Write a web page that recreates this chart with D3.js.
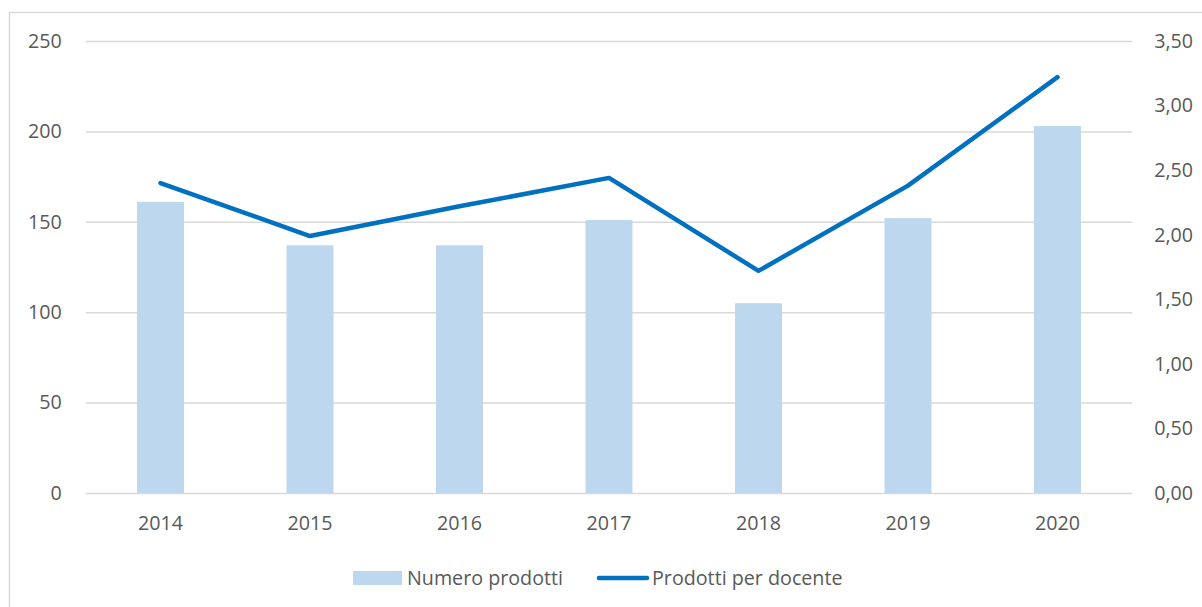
<!DOCTYPE html>
<html>
<head>
<meta charset="utf-8">
<script src="https://cdn.jsdelivr.net/npm/d3@7"></script>
<style>
  html, body { margin: 0; padding: 0; background: #fff; }
  svg { display: block; }
  text { font-family: "Open Sans", sans-serif; fill: #595959; }
</style>
</head>
<body>
<svg id="chart" width="1202" height="607"></svg>
<script>
const years = ["2014", "2015", "2016", "2017", "2018", "2019", "2020"];
const numeroProdotti = [161, 137, 137, 151, 105, 152, 203];
const prodottiPerDocente = [2.40, 1.99, 2.22, 2.44, 1.72, 2.38, 3.22];
const leftTicks = [0, 50, 100, 150, 200, 250];
const rightTicks = [0, 0.5, 1, 1.5, 2, 2.5, 3, 3.5];
const seriesNames = ["Numero prodotti", "Prodotti per docente"];

const W = 1202, H = 607;
const plot = { left: 85.75, right: 1132.25, top: 41, bottom: 493 };
const barColor = "#BDD7EE", lineColor = "#0070C0", gridColor = "#D9D9D9";
const fontSize = 19.7;

const svg = d3.select("#chart");

// outer border
svg.append("rect").attr("x", 9.5).attr("y", 12.5).attr("width", W).attr("height", H)
  .attr("fill", "none").attr("stroke", gridColor).attr("stroke-width", 1.5);

const x = d3.scaleBand().domain(years).range([plot.left, plot.right])
  .paddingInner(0.686).paddingOuter(0.343);
const yL = d3.scaleLinear().domain([0, 250]).range([plot.bottom, plot.top]);
const yR = d3.scaleLinear().domain([0, 3.5]).range([plot.bottom, plot.top]);

// gridlines
const grid = svg.append("g").attr("transform", `translate(${plot.left},0)`)
  .call(d3.axisLeft(yL).tickValues(leftTicks).tickSize(-(plot.right - plot.left)).tickFormat(""));
grid.select(".domain").remove();
grid.selectAll(".tick line").attr("stroke", gridColor).attr("stroke-width", 1.5);

// left axis labels
const ax = svg.append("g").attr("transform", `translate(${plot.left},0)`)
  .call(d3.axisLeft(yL).tickValues(leftTicks).tickSize(0).tickPadding(24));
ax.select(".domain").remove();
ax.selectAll("text").style("font-size", fontSize + "px").attr("fill", "#595959");

// right axis labels
const fmt = v => d3.format(".2f")(v).replace(".", ",");
const axR = svg.append("g").attr("transform", `translate(${plot.right},0)`)
  .call(d3.axisRight(yR).tickValues(rightTicks).tickSize(0).tickPadding(22).tickFormat(fmt));
axR.select(".domain").remove();
axR.selectAll("text").style("font-size", fontSize + "px").attr("fill", "#595959");

// bars
svg.append("g").selectAll("rect").data(years).join("rect")
  .attr("x", d => x(d))
  .attr("width", x.bandwidth())
  .attr("y", (d, i) => yL(numeroProdotti[i]))
  .attr("height", (d, i) => yL(0) - yL(numeroProdotti[i]))
  .attr("fill", barColor);

// x axis labels
const axX = svg.append("g").attr("transform", `translate(0,${plot.bottom})`)
  .call(d3.axisBottom(x).tickSize(0).tickPadding(23));
axX.select(".domain").remove();
axX.selectAll("text").style("font-size", fontSize + "px").attr("fill", "#595959");

// line
const line = d3.line()
  .x((d, i) => x(years[i]) + x.bandwidth() / 2)
  .y(d => yR(d));
svg.append("path").datum(prodottiPerDocente)
  .attr("d", line)
  .attr("fill", "none").attr("stroke", lineColor).attr("stroke-width", 4.5)
  .attr("stroke-linecap", "round").attr("stroke-linejoin", "round");

// legend
const lg = svg.append("g");
lg.append("rect").attr("x", 353).attr("y", 571).attr("width", 49).attr("height", 14).attr("fill", barColor);
lg.append("text").attr("x", 407).attr("y", 578).attr("dy", "0.35em")
  .style("font-size", fontSize + "px").text(seriesNames[0]);
lg.append("line").attr("x1", 599).attr("x2", 647).attr("y1", 578).attr("y2", 578)
  .attr("stroke", lineColor).attr("stroke-width", 4.5).attr("stroke-linecap", "round");
lg.append("text").attr("x", 652).attr("y", 578).attr("dy", "0.35em")
  .style("font-size", fontSize + "px").text(seriesNames[1]);
</script>
</body>
</html>
